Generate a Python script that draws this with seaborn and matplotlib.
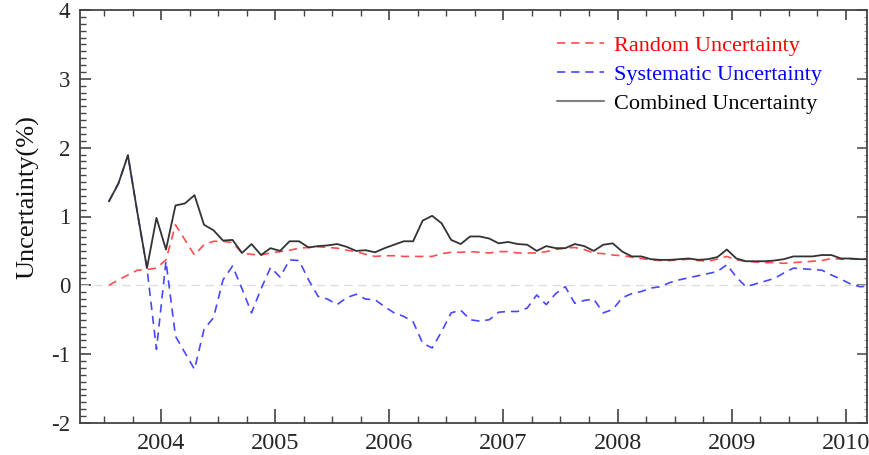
import numpy as np
import pandas as pd
import matplotlib
matplotlib.use("Agg")
import matplotlib.pyplot as plt
from matplotlib.ticker import MultipleLocator, FixedLocator, FuncFormatter
from matplotlib.lines import Line2D
import seaborn as sns

# Monthly series, July 2003 .. February 2010 (values in %)
start_year, start_month = 2003, 7
random_unc = [
    0.00, 0.08, 0.15, 0.22, 0.23, 0.25, 0.37, 0.88, 0.66, 0.44, 0.59, 0.64,
    0.64, 0.62, 0.47, 0.45, 0.44, 0.47, 0.49, 0.51, 0.54, 0.55, 0.56, 0.55,
    0.54, 0.51, 0.49, 0.45, 0.42, 0.43, 0.43, 0.42, 0.42, 0.42, 0.42, 0.46,
    0.48, 0.48, 0.49, 0.48, 0.47, 0.49, 0.49, 0.47, 0.47, 0.47, 0.49, 0.52,
    0.54, 0.55, 0.52, 0.47, 0.46, 0.44, 0.43, 0.41, 0.39, 0.37, 0.36, 0.36,
    0.37, 0.38, 0.36, 0.35, 0.38, 0.42, 0.37, 0.35, 0.34, 0.33, 0.33, 0.32,
    0.33, 0.34, 0.35, 0.36, 0.39, 0.38, 0.38, 0.38, 0.38,
]
systematic_unc = [
    1.22, 1.48, 1.89, 1.05, 0.25, -0.93, 0.35, -0.74, -0.98, -1.22, -0.64, -0.47,
    0.08, 0.28, -0.05, -0.40, -0.05, 0.26, 0.12, 0.37, 0.36, 0.08, -0.16, -0.20,
    -0.28, -0.18, -0.13, -0.20, -0.21, -0.31, -0.40, -0.45, -0.53, -0.84, -0.91, -0.67,
    -0.40, -0.36, -0.50, -0.52, -0.50, -0.39, -0.38, -0.38, -0.33, -0.14, -0.28, -0.12,
    -0.02, -0.26, -0.22, -0.20, -0.40, -0.35, -0.18, -0.12, -0.09, -0.04, -0.02, 0.04,
    0.08, 0.11, 0.14, 0.17, 0.20, 0.30, 0.12, -0.02, 0.02, 0.06, 0.10, 0.18,
    0.25, 0.24, 0.23, 0.22, 0.15, 0.09, 0.02, -0.02, -0.01,
]
combined_unc = [
    1.22, 1.48, 1.89, 1.05, 0.25, 0.98, 0.52, 1.16, 1.19, 1.31, 0.88, 0.80,
    0.65, 0.66, 0.47, 0.60, 0.44, 0.54, 0.50, 0.64, 0.64, 0.55, 0.57, 0.58,
    0.60, 0.56, 0.50, 0.51, 0.48, 0.54, 0.59, 0.64, 0.64, 0.94, 1.01, 0.90,
    0.66, 0.60, 0.71, 0.71, 0.68, 0.61, 0.63, 0.60, 0.59, 0.50, 0.57, 0.54,
    0.54, 0.60, 0.57, 0.50, 0.59, 0.61, 0.49, 0.42, 0.42, 0.38, 0.37, 0.37,
    0.38, 0.39, 0.37, 0.38, 0.41, 0.52, 0.39, 0.35, 0.35, 0.35, 0.36, 0.38,
    0.42, 0.42, 0.42, 0.44, 0.44, 0.39, 0.39, 0.38, 0.38,
]
year_ticks = [2004, 2005, 2006, 2007, 2008, 2009, 2010]
y_ticks = [-2, -1, 0, 1, 2, 3, 4]
series_names = ["Random Uncertainty", "Systematic Uncertainty", "Combined Uncertainty"]

# decimal year at mid-month
n = len(combined_unc)
month_index = np.arange(n) + (start_month - 1)
t = start_year + (month_index + 0.5) / 12.0
df = pd.DataFrame({"t": t, "random": random_unc,
                   "systematic": systematic_unc, "combined": combined_unc})

sns.set_style("ticks")
plt.rcParams["font.family"] = ["Liberation Serif", "DejaVu Serif"]
plt.rcParams["axes.unicode_minus"] = False

fig = plt.figure(figsize=(8.69, 4.55), dpi=100)
ax = fig.add_axes([80 / 869, 32 / 455, 787 / 869, 413 / 455])

red = "#ff4d4d"
blue = "#4747ff"
dark = "#333333"

ax.axhline(0, color="#dddddd", lw=1.0, ls=(0, (6, 4)), zorder=1)
sns.lineplot(data=df, x="t", y="random", ax=ax, color=red, lw=1.2,
             linestyle=(0, (5, 3.5)), zorder=3)
sns.lineplot(data=df, x="t", y="systematic", ax=ax, color=blue, lw=1.2,
             linestyle=(0, (5, 3.5)), zorder=3)
sns.lineplot(data=df, x="t", y="combined", ax=ax, color=dark, lw=1.3, zorder=4)

ax.set_xlim(2003.288, 2010.187)
ax.set_ylim(-2.0, 4.0)
ax.set_xlabel("")
ax.set_ylabel("")

# axes frame and ticks
for sp in ax.spines.values():
    sp.set_color("#444444")
    sp.set_linewidth(1.3)
ax.xaxis.set_major_locator(FixedLocator(year_ticks))
ax.xaxis.set_minor_locator(MultipleLocator(0.25))
ax.yaxis.set_major_locator(FixedLocator(y_ticks))
ax.yaxis.set_minor_locator(MultipleLocator(0.1))
ax.yaxis.set_major_formatter(FuncFormatter(lambda v, p: f"{v:g}"))
ax.tick_params(axis="x", which="major", direction="in", length=10, width=1.2,
               color="#444444", labelsize=17.5, pad=7)
ax.tick_params(axis="x", which="minor", direction="in", length=5, width=1.0,
               color="#444444")
ax.tick_params(axis="y", which="major", direction="in", length=8, width=1.2,
               color="#444444", labelsize=16.5, pad=7)
ax.tick_params(axis="y", which="minor", direction="in", length=4.5, width=1.0,
               color="#444444")

# opposite-side ticks
top = ax.secondary_xaxis("top")
top.xaxis.set_major_locator(FixedLocator(year_ticks))
top.xaxis.set_minor_locator(MultipleLocator(0.25))
top.tick_params(which="major", direction="in", length=7, width=1.2, color="#444444",
                labeltop=False)
top.tick_params(which="minor", direction="in", length=4, width=1.0, color="#444444")
top.spines["top"].set_visible(False)
right = ax.secondary_yaxis("right")
right.yaxis.set_major_locator(FixedLocator(y_ticks))
right.yaxis.set_minor_locator(MultipleLocator(0.1))
right.tick_params(which="major", direction="in", length=7, width=1.2, color="#555555",
                  labelright=False)
right.tick_params(which="minor", direction="in", length=2, width=0.8, color="#999999")
right.spines["right"].set_visible(False)

fig.text(28 / 869, 1 - 197 / 455, "Uncertainty(%)", rotation=90,
         ha="center", va="center", fontsize=19, color="#111111")

handles = [
    Line2D([], [], color=red, lw=1.2, ls=(0, (5, 3.5))),
    Line2D([], [], color=blue, lw=1.2, ls=(0, (5, 3.5))),
    Line2D([], [], color="#808080", lw=1.5),
]
leg = ax.legend(handles, series_names, loc="upper left", bbox_to_anchor=(0.606, 0.938),
                frameon=False, fontsize=16, handlelength=2.1, handletextpad=0.45,
                labelspacing=0.38, borderaxespad=0, borderpad=0)
for txt, c in zip(leg.get_texts(), ["#ff0000", "#0000ff", "#000000"]):
    txt.set_color(c)

fig.savefig("out.png", dpi=100)
